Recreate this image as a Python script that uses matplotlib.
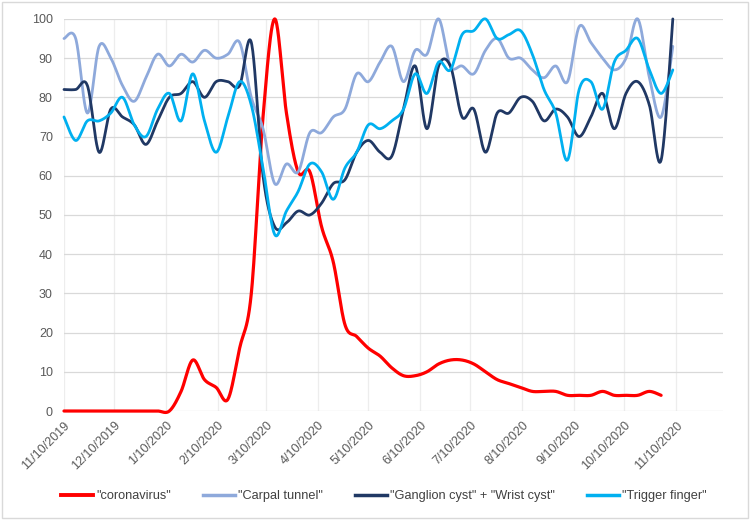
import numpy as np
import pandas as pd
import matplotlib
matplotlib.use("Agg")
import matplotlib.pyplot as plt
import matplotlib.dates as mdates
from matplotlib.lines import Line2D
from matplotlib.patches import Rectangle

plt.rcParams['font.family'] = ['Liberation Sans', 'DejaVu Sans']

start_date = "2019-11-10"
n_weeks = 53

coronavirus = [0, 0, 0, 0, 0, 0, 0, 0, 0, 0,
               5, 13, 8, 6, 3, 16, 30, 75, 100, 76,
               61, 61, 47, 38, 22, 19, 16, 14, 11, 9,
               9, 10, 12, 13, 13, 12, 10, 8, 7, 6,
               5, 5, 5, 4, 4, 4, 5, 4, 4, 4, 5, 4]
carpal_tunnel = [95, 95, 76, 93, 90, 83, 79, 85, 91, 88,
                 91, 89, 92, 90, 91, 94, 80, 72, 58, 63,
                 61, 71, 71, 75, 77, 86, 84, 89, 93, 84,
                 92, 91, 100, 88, 88, 86, 92, 95, 90, 90,
                 87, 85, 88, 84, 98, 94, 90, 87, 90, 100,
                 85, 75, 93]
ganglion = [82, 82, 83, 66, 77, 75, 73, 68, 74, 80,
            81, 84, 80, 84, 84, 83, 94, 60, 47, 48,
            51, 50, 53, 58, 59, 66, 69, 66, 65, 77,
            88, 72, 88, 88, 75, 77, 66, 76, 76, 80,
            79, 74, 77, 75, 70, 75, 81, 72, 81, 84,
            78, 64, 100]
trigger = [75, 69, 74, 74, 76, 80, 73, 70, 77, 81,
           74, 86, 74, 66, 75, 84, 78, 62, 45, 51,
           56, 63, 61, 54, 62, 66, 73, 72, 74, 77,
           86, 81, 89, 87, 96, 97, 100, 95, 96, 97,
           91, 82, 76, 64, 82, 84, 77, 89, 92, 95,
           87, 81, 87]

series_names = ['"coronavirus"', '"Carpal tunnel"',
                '"Ganglion cyst" + "Wrist cyst"', '"Trigger finger"']
series_colors = ['#FF0000', '#8EA9DB', '#203864', '#00B0F0']
series_widths = [2.3, 2.0, 2.0, 2.0]

dates = pd.date_range(start_date, periods=n_weeks, freq='7D')
tick_dates = [pd.Timestamp("2019-11-10") + pd.DateOffset(months=k) for k in range(13)]


def smooth(x, y, per=24):
    """Excel-like smoothed line (Catmull-Rom Bezier)."""
    x = np.asarray(x, float)
    y = np.asarray(y, float)
    n = len(x)
    xs, ys = [], []
    t = np.linspace(0, 1, per, endpoint=False)
    for i in range(n - 1):
        p0 = np.array([x[i], y[i]])
        p3 = np.array([x[i + 1], y[i + 1]])
        pm = np.array([x[i - 1], y[i - 1]]) if i > 0 else p0
        pp = np.array([x[i + 2], y[i + 2]]) if i + 2 < n else p3
        c1 = p0 + (p3 - pm) / 6.0
        c2 = p3 - (pp - p0) / 6.0
        b = ((1 - t) ** 3)[:, None] * p0 + (3 * (1 - t) ** 2 * t)[:, None] * c1 \
            + (3 * (1 - t) * t ** 2)[:, None] * c2 + (t ** 3)[:, None] * p3
        xs.append(b[:, 0]); ys.append(b[:, 1])
    xs.append([x[-1]]); ys.append([y[-1]])
    return np.concatenate(xs), np.concatenate(ys)


fig = plt.figure(figsize=(7.5, 5.2), dpi=100)
ax = fig.add_axes([0.0853, 0.2096, 0.8787, 0.754])

xnum = mdates.date2num(dates)
all_series = [coronavirus, carpal_tunnel, ganglion, trigger]
for vals, c, lw in zip(all_series, series_colors, series_widths):
    sx, sy = smooth(xnum[:len(vals)], vals)
    ax.plot(sx, sy, color=c, lw=lw, solid_capstyle='round', zorder=3, clip_on=False)

ax.set_ylim(0, 100)
ax.set_yticks(np.arange(0, 101, 10))
ax.set_xlim(mdates.date2num(pd.Timestamp("2019-11-10")),
            mdates.date2num(pd.Timestamp("2020-12-08")))
ax.set_xticks(mdates.date2num(tick_dates))
ax.set_xticklabels([f"{d.month}/{d.day}/{d.year}" for d in tick_dates],
                   rotation=45, ha='right', rotation_mode='anchor')
ax.tick_params(axis='both', length=0, labelsize=9, colors='#595959')
ax.tick_params(axis='x', pad=6)
ax.tick_params(axis='y', pad=8)
ax.grid(axis='y', color='#D9D9D9', lw=0.9, zorder=0)
ax.grid(axis='x', color='#EDEDED', lw=0.9, zorder=0)
for s in ax.spines.values():
    s.set_visible(False)

handles = [Line2D([0], [0], color=c, lw=lw + 0.5) for c, lw in zip(series_colors, series_widths)]
fig.legend(handles, series_names, loc='center', bbox_to_anchor=(0.512, 0.046),
           ncol=4, frameon=False, fontsize=9.2, handlelength=2.5,
           columnspacing=2.5, handletextpad=0.25, labelcolor='#404040')

fig.patches.append(Rectangle((0.002, 0.003), 0.995, 0.993, transform=fig.transFigure,
                             fill=False, edgecolor='#D9D9D9', lw=1))
fig.savefig("out.png", dpi=100)
